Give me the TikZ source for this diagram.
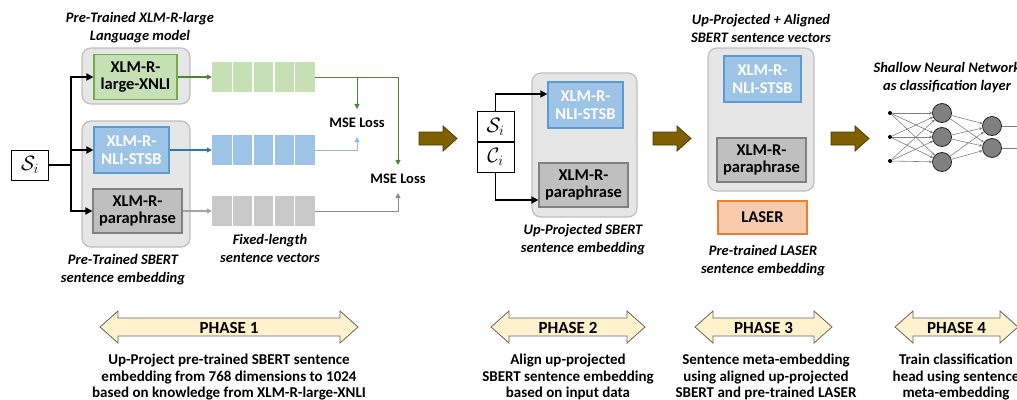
\documentclass[tikz,border=0pt]{standalone}
\usepackage{fontspec}
\setmainfont{Carlito}
\usetikzlibrary{arrows.meta,positioning,calc}

\definecolor{grpfill}{HTML}{E7E6E6}
\definecolor{grpline}{HTML}{BFBFBF}
\definecolor{xnlifill}{HTML}{C5E0B4}
\definecolor{xnliline}{HTML}{70AD47}
\definecolor{stsbfill}{HTML}{9DC3E6}
\definecolor{stsbline}{HTML}{5B9BD5}
\definecolor{parafill}{HTML}{BFBFBF}
\definecolor{paraline}{HTML}{808080}
\definecolor{laserfill}{HTML}{F8CBAD}
\definecolor{laserline}{HTML}{ED7D31}
\definecolor{greenarr}{HTML}{548235}
\definecolor{bluearr}{HTML}{2E75B6}
\definecolor{lightblue}{HTML}{8DB9E2}
\definecolor{grayarr}{HTML}{8C8C8C}
\definecolor{bigbrown}{HTML}{7F6000}
\definecolor{phasefill}{HTML}{FFF2CC}

\begin{document}
\begin{tikzpicture}[x=1pt,y=-1pt,
   every node/.style={align=center,inner sep=0pt},
   lbl/.style={font=\fontsize{14.5}{17.5}\selectfont\bfseries},
   desctxt/.style={font=\fontsize{15}{16.5}\selectfont\bfseries},
   captxt/.style={font=\fontsize{14.5}{18}\selectfont\bfseries\itshape},
   grp/.style={draw=grpline,fill=grpfill,line width=1.2pt,rounded corners=9pt},
   mdl/.style={draw,line width=1.2pt,font=\fontsize{16.5}{17.5}\selectfont\bfseries},
   xnli/.style={mdl,draw=xnliline,fill=xnlifill},
   stsb/.style={mdl,draw=stsbline,fill=stsbfill,text=white},
   para/.style={mdl,draw=paraline,fill=parafill},
   vec/.style={minimum width=103pt,minimum height=30pt},
   inbox/.style={draw,line width=0.8pt,fill=white,minimum width=37pt,minimum height=30pt,
                 font=\fontsize{21}{21}\selectfont},
   feed/.style={line width=1.8pt,-{Triangle[length=7pt,width=7pt]}},
   lossline/.style={line width=1.3pt,-{Triangle[length=5pt,width=5pt]}},
   bigarrow/.style={fill=bigbrown,draw=bigbrown!60!black,line width=0.8pt},
   phasearrow/.style={fill=phasefill,draw=black!60,line width=0.8pt},
   dot/.style={circle,fill=black,minimum size=4pt},
   neuron/.style={circle,draw=black!85,fill=black!50,line width=0.8pt,minimum size=19pt},
   nnedge/.style={draw=black!50,line width=0.6pt,-{Stealth[length=3pt,width=3pt]}}]

\useasboundingbox (0,0) rectangle (1017,399);
\clip (0,0) rectangle (1017,399);

% phase 1
\node[captxt] (xlmtitle) at (140,28) {Pre-Trained XLM-R-large\\Language model};
\node[grp,minimum width=108pt,minimum height=56pt] (xlmgrp) at (136,76) {};
\node[grp,minimum width=108pt,minimum height=126pt] (sbertgrp) at (136,184) {};
\node[xnli,minimum width=83pt,minimum height=45pt] (xnli) at (135.5,77) {XLM-R-\\large-XNLI};
\node[stsb,minimum width=75pt,minimum height=46pt] (stsb) at (131.5,150) {XLM-R-\\NLI-STSB};
\node[para,minimum width=89pt,minimum height=44pt] (para) at (137.5,211) {XLM-R-\\paraphrase};
\node[captxt] (sbertcap) at (123,270) {Pre-Trained SBERT\\sentence embedding};

\node[inbox] (si) at (30,165) {$\mathcal{S}_i$};
\coordinate (split) at (71,165);
\draw[line width=1.8pt] (si) -- (split);
\draw[feed] (split) |- (xnli);
\draw[feed] (split) |- (stsb);
\draw[feed] (split) |- (para);

\node[vec,fill=xnlifill] (xvec) at (263.5,77) {};
\node[vec,fill=stsbfill] (svec) at (263.5,150) {};
\node[vec,fill=parafill!85!white] (pvec) at (263.5,211) {};
\foreach \v in {xvec,svec,pvec}
   \foreach \k in {1,...,4}
      \draw[white,line width=1.5pt] ($(\v.north west)!\k/5!(\v.north east)$)
                                  -- ($(\v.south west)!\k/5!(\v.south east)$);
\node[captxt] (veccap) at (270,248) {Fixed-length\\sentence vectors};

\draw[lossline,draw=greenarr] (xnli) -- (xvec);
\draw[lossline,draw=bluearr] (stsb) -- (svec);
\draw[lossline,draw=grayarr!80!white] (para) -- (pvec);

\node[lbl,inner xsep=2pt,inner ysep=9pt] (mse1) at (357,123) {MSE Loss};
\node[lbl,inner xsep=2pt,inner ysep=9pt] (mse2) at (398,179) {MSE Loss};
\coordinate (xsplit) at (mse1 |- xvec);
\draw[lossline,line width=1pt,draw=greenarr] (xvec.east) -| (mse2.north);
\draw[lossline,line width=1pt,draw=greenarr] (xsplit) -- (mse1.north);
\draw[lossline,line width=1pt,draw=lightblue] (svec.east) -| (mse1.south);
\draw[lossline,line width=1pt,draw=grayarr] (pvec.east) -| (mse2.south);

% big arrows between phases
\foreach \x in {419,653,831}
   \draw[bigarrow] (\x,132) -- ++(24,0) -- ++(0,-6) -- ++(14,12.5) -- ++(-14,12.5)
                   -- ++(0,-6) -- ++(-24,0) -- cycle;

% phase 2
\node[grp,minimum width=105pt,minimum height=144pt] (upgrp) at (584.5,145) {};
\node[stsb,minimum width=75pt,minimum height=46pt] (upstsb) at (585.5,105) {XLM-R-\\NLI-STSB};
\node[para,minimum width=89pt,minimum height=44pt] (uppara) at (583.5,185) {XLM-R-\\paraphrase};
\node[inbox] (si2) at (495.5,126.5) {$\mathcal{S}_i$};
\node[inbox,below=0pt of si2] (ci) {$\mathcal{C}_i$};
\draw[feed,line width=1.5pt] (si2.north) |- ([yshift=11pt]upstsb.west);
\draw[feed,line width=1.5pt] (ci.south) |- ([yshift=-15pt]uppara.west);
\node[captxt] (upcap) at (583,240) {Up-Projected SBERT\\sentence embedding};

% phase 3
\node[captxt] (aligntitle) at (761,28) {Up-Projected + Aligned\\SBERT sentence vectors};
\node[grp,minimum width=106pt,minimum height=143pt] (aligngrp) at (761,119.5) {};
\node[stsb,minimum width=77pt,minimum height=46pt] (alstsb) at (762.5,79) {XLM-R-\\NLI-STSB};
\node[para,minimum width=89pt,minimum height=44pt] (alpara) at (761.5,160) {XLM-R-\\paraphrase};
\node[mdl,draw=laserline,fill=laserfill,minimum width=89pt,minimum height=33pt] (laser) at (762.5,217.5) {LASER};
\node[captxt] (lasercap) at (763,261) {Pre-trained LASER\\sentence embedding};

% phase 4
\node[captxt] (nntitle) at (947,78) {Shallow Neural Network\\as classification layer};
\node[dot] (i1) at (890,113) {};
\node[dot] (i2) at (890,137) {};
\node[dot] (i3) at (890,161) {};
\node[neuron] (h1) at (942,113) {};
\node[neuron] (h2) at (942,137) {};
\node[neuron] (h3) at (942,162) {};
\node[neuron] (o1) at (992,126) {};
\node[neuron] (o2) at (992,148) {};
\coordinate (out1) at (1030,126);
\coordinate (out2) at (1030,148);
\foreach \i in {1,2,3}
   \foreach \h in {1,2,3}
      \draw[nnedge] (i\i) -- (h\h);
\foreach \h in {1,2,3}
   \foreach \o in {1,2}
      \draw[nnedge] (h\h) -- (o\o);
\draw[draw=black!50,line width=0.6pt] (o1) -- (out1);
\draw[draw=black!50,line width=0.6pt] (o2) -- (out2);

% phases
\foreach \a/\b/\n in {100/358/1,491/645/2,695/832/3,895/1018/4}{
   \draw[phasearrow] (\a,327) -- (\a+18,311) -- (\a+18,318) -- (\b-18,318) -- (\b-18,311)
      -- (\b,327) -- (\b-18,343) -- (\b-18,336) -- (\a+18,336) -- (\a+18,343) -- cycle;
   \node[font=\fontsize{17}{17}\selectfont\bfseries] (phase\n) at ({(\a+\b)/2},328) {PHASE \n};
}
\node[desctxt,anchor=north] (desc1) at (229,354) {Up-Project pre-trained SBERT sentence\\embedding from 768 dimensions to 1024\\based on knowledge from XLM-R-large-XNLI};
\node[desctxt,anchor=north] (desc2) at (568,354) {Align up-projected\\SBERT sentence embedding\\based on input data};
\node[desctxt,anchor=north] (desc3) at (766,354) {Sentence meta-embedding\\using aligned up-projected\\SBERT and pre-trained LASER};
\node[desctxt,anchor=north] (desc4) at (956,354) {Train classification\\head using sentence\\meta-embedding};

\end{tikzpicture}
\end{document}
